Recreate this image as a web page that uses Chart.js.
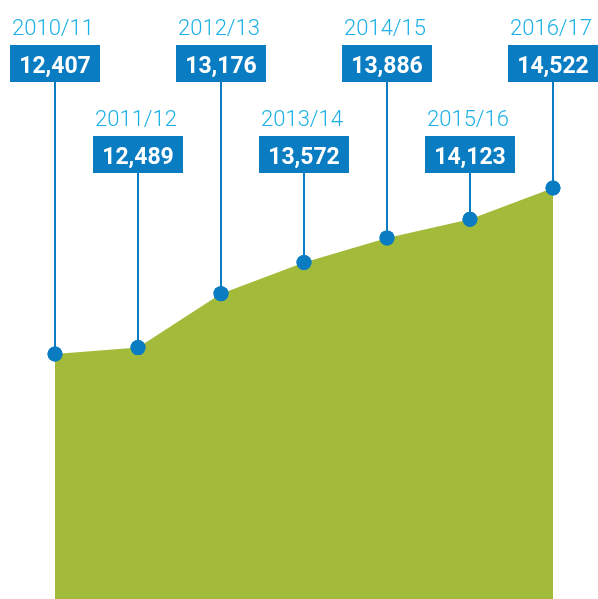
<!DOCTYPE html>
<html>
<head>
<meta charset="utf-8">
<script src="https://cdn.jsdelivr.net/npm/chart.js@4/dist/chart.umd.min.js"></script>
<style>
  html, body { margin: 0; padding: 0; background: #ffffff; }
  #wrap { width: 598px; height: 599px; position: relative; }
</style>
</head>
<body>
<div id="wrap"><canvas id="c"></canvas></div>
<script>
const years = ['2010/11', '2011/12', '2012/13', '2013/14', '2014/15', '2015/16', '2016/17'];
const values = [12407, 12489, 13176, 13572, 13886, 14123, 14522];
const valueLabels = ['12,407', '12,489', '13,176', '13,572', '13,886', '14,123', '14,522'];

const BLUE = '#0a7cc2';
const GREEN = '#a3bb3b';
const CYAN = '#1cb1e6';

const calloutPlugin = {
  id: 'callouts',
  afterDatasetsDraw(chart) {
    const ctx = chart.ctx;
    const meta = chart.getDatasetMeta(0);
    ctx.save();
    meta.data.forEach((pt, i) => {
      const x = pt.x, y = pt.y;
      const even = i % 2 === 0;
      const boxTop = even ? 45 : 136;
      const boxH = 37, boxW = 90;
      const boxBottom = boxTop + boxH;
      ctx.strokeStyle = BLUE;
      ctx.lineWidth = 2;
      ctx.beginPath();
      ctx.moveTo(x, boxBottom);
      ctx.lineTo(x, y);
      ctx.stroke();
      ctx.fillStyle = BLUE;
      ctx.fillRect(x - boxW / 2, boxTop, boxW, boxH);
      ctx.fillStyle = '#ffffff';
      ctx.font = 'bold 23px Roboto';
      ctx.textAlign = 'center';
      ctx.textBaseline = 'alphabetic';
      ctx.fillText(valueLabels[i], x, boxTop + 28);
      ctx.fillStyle = CYAN;
      ctx.font = '300 22px Roboto';
      ctx.fillText(years[i], x - 2, boxTop - 10);
    });
    meta.data.forEach(pt => pt.draw(ctx, chart.chartArea));
    ctx.restore();
  }
};

new Chart(document.getElementById('c'), {
  type: 'line',
  data: {
    labels: years,
    datasets: [{
      data: values,
      fill: 'start',
      backgroundColor: GREEN,
      borderWidth: 0,
      borderColor: GREEN,
      tension: 0,
      pointRadius: 7.5,
      pointBackgroundColor: BLUE,
      pointBorderWidth: 0,
      clip: false
    }]
  },
  options: {
    responsive: true,
    maintainAspectRatio: false,
    animation: false,
    events: [],
    layout: { autoPadding: false, padding: { left: 55, right: 45, top: 0, bottom: 0 } },
    plugins: { legend: { display: false }, tooltip: { enabled: false } },
    scales: {
      x: { display: false, offset: false },
      y: { display: false, min: 9286, max: 16917 }
    }
  },
  plugins: [calloutPlugin]
});
</script>
</body>
</html>
